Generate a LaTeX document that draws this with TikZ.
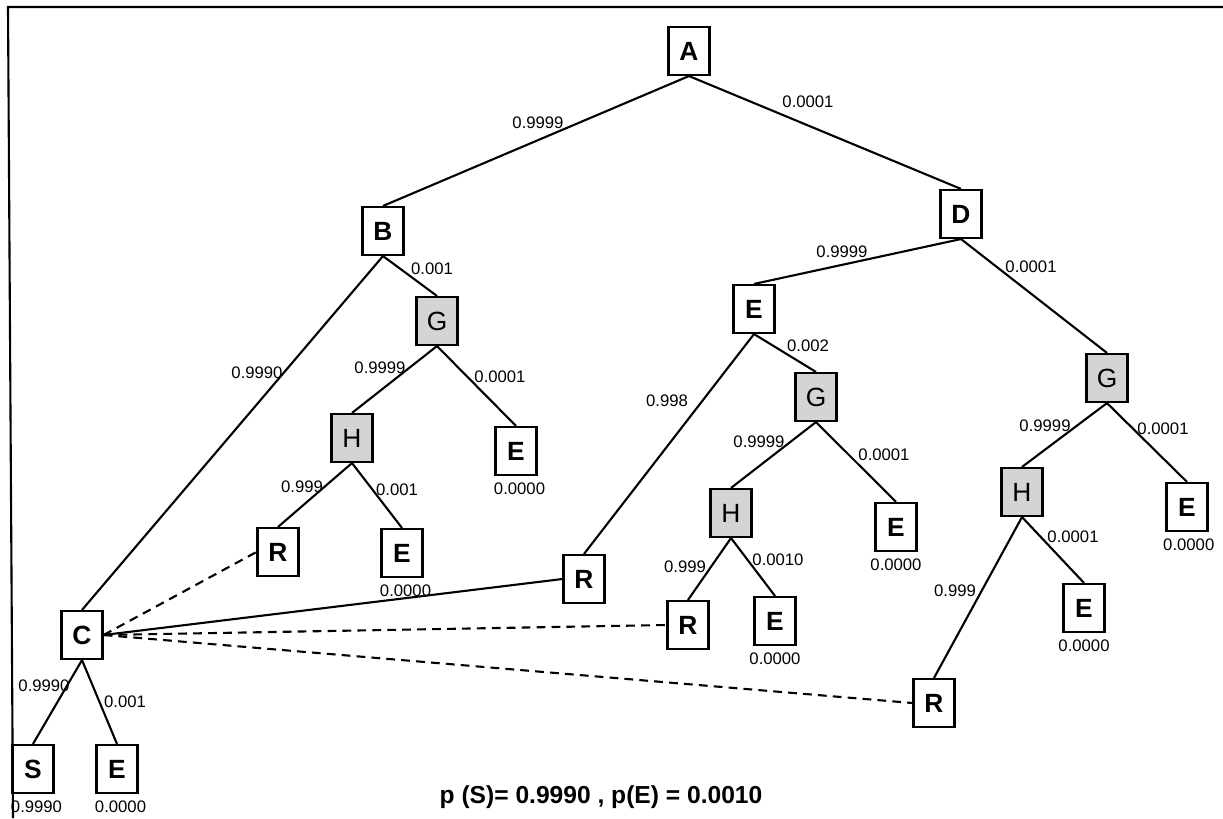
\documentclass[tikz,border=0pt]{standalone}
\usepackage{fontspec}
\setmainfont{Liberation Sans}
\usepackage{tikz}
\usetikzlibrary{positioning}
\definecolor{shade}{HTML}{D4D4D4}

\begin{document}
\begin{tikzpicture}[x=0.02cm, y=-0.02cm, line width=1.2pt,
  box/.style={draw,minimum width=0.82cm,minimum height=0.96cm,inner sep=0pt,font=\fontsize{15}{15}\selectfont\bfseries},
  gbox/.style={box,fill=shade,font=\fontsize{15}{15}\selectfont},
  lbl/.style={inner sep=1pt,font=\fontsize{9.5}{11}\selectfont},
  link/.style={dash pattern=on 5pt off 3.5pt}]
  \useasboundingbox (0,0) rectangle (1223,818);
  \draw (1223,7) -- (8,7) -- (13,818);

  % left branch
  \node[box] (a) at (689,51) {A};
  \node[box] (b) at (383,231) {B};
  \node[gbox] (g1) at (437,321) {G};
  \node[gbox] (h1) at (352,438) {H};
  \node[box] (e1) at (516,451) {E};
  \node[box] (r1) at (278,552) {R};
  \node[box] (e2) at (402,553) {E};
  \node[box] (c) at (82,635) {C};
  \node[box] (s) at (33,769) {S};
  \node[box] (e3) at (117,769) {E};
  % right branch
  \node[box] (d) at (961,214) {D};
  \node[box] (e4) at (754,309) {E};
  \node[box] (r2) at (584,579) {R};
  \node[gbox] (g2) at (816,397) {G};
  \node[gbox] (h2) at (731,513) {H};
  \node[box] (e5) at (896,527) {E};
  \node[box] (r3) at (688,625) {R};
  \node[box] (e6) at (775,621) {E};
  \node[gbox] (g3) at (1107,378) {G};
  \node[gbox] (h3) at (1022,492) {H};
  \node[box] (e7) at (1187,507) {E};
  \node[box] (e8) at (1084,608) {E};
  \node[box] (r4) at (934,703) {R};

  % leaf values
  \node[lbl, below=2pt of e1, xshift=2pt] (v1) {0.0000};
  \node[lbl, below=2pt of e2, xshift=2pt] (v2) {0.0000};
  \node[lbl, below=2pt of s, xshift=2pt] (v3) {0.9990};
  \node[lbl, below=2pt of e3, xshift=2pt] (v4) {0.0000};
  \node[lbl, below=2pt of e5] (v5) {0.0000};
  \node[lbl, below=2pt of e6] (v6) {0.0000};
  \node[lbl, below=2pt of e7, xshift=1pt] (v7) {0.0000};
  \node[lbl, below=2pt of e8] (v8) {0.0000};

  \draw (a.south) -- (b.north);
  \draw (a.south) -- (d.north);
  \draw (b.south) -- (c.north);
  \draw (b.south) -- (g1.north);
  \draw (g1.south) -- (h1.north);
  \draw (g1.south) -- (e1.north);
  \draw (h1.south) -- (r1.north);
  \draw (h1.south) -- (e2.north);
  \draw (c.south) -- (s.north);
  \draw (c.south) -- (e3.north);
  \draw (d.south) -- (e4.north);
  \draw (d.south) -- (g3.north);
  \draw (e4.south) -- (r2.north);
  \draw (e4.south) -- (g2.north);
  \draw (g2.south) -- (h2.north);
  \draw (g2.south) -- (e5.north);
  \draw (h2.south) -- (r3.north);
  \draw (h2.south) -- (e6.north);
  \draw (g3.south) -- (h3.north);
  \draw (g3.south) -- (e7.north);
  \draw (h3.south) -- (r4.north);
  \draw (h3.south) -- (e8.north);

  % links back from C
  \draw[link] (c.east) -- (r1.west);
  \draw (c.east) -- (r2.west);
  \draw[link] (c.east) -- (r3.west);
  \draw[link] (c.east) -- (r4.west);

  % branch probabilities
  \node[lbl] (pab) at (538,123) {0.9999};
  \node[lbl] (pad) at (808,102) {0.0001};
  \node[lbl] (pbc) at (257,373) {0.9990};
  \node[lbl] (pbg) at (432,269) {0.001};
  \node[lbl] (pgh1) at (380,368) {0.9999};
  \node[lbl] (pge1) at (500,377) {0.0001};
  \node[lbl] (phr1) at (302,487) {0.999};
  \node[lbl] (phe2) at (397,490) {0.001};
  \node[lbl] (pcs) at (44,686) {0.9990};
  \node[lbl] (pce3) at (125,702) {0.001};
  \node[lbl] (pde) at (842,252) {0.9999};
  \node[lbl] (pdg) at (1031,267) {0.0001};
  \node[lbl] (per) at (667,401) {0.998};
  \node[lbl] (peg) at (808,346) {0.002};
  \node[lbl] (pgh2) at (759,442) {0.9999};
  \node[lbl] (pge5) at (884,455) {0.0001};
  \node[lbl] (phr3) at (685,567) {0.999};
  \node[lbl] (phe6) at (778,560) {0.0010};
  \node[lbl] (pgh3) at (1045,426) {0.9999};
  \node[lbl] (pge7) at (1163,429) {0.0001};
  \node[lbl] (phr4) at (955,591) {0.999};
  \node[lbl] (phe8) at (1073,537) {0.0001};

  \node[font=\fontsize{14}{16}\selectfont\bfseries] (res) at (601,797) {p (S)= 0.9990 , p(E) = 0.0010};
\end{tikzpicture}
\end{document}
